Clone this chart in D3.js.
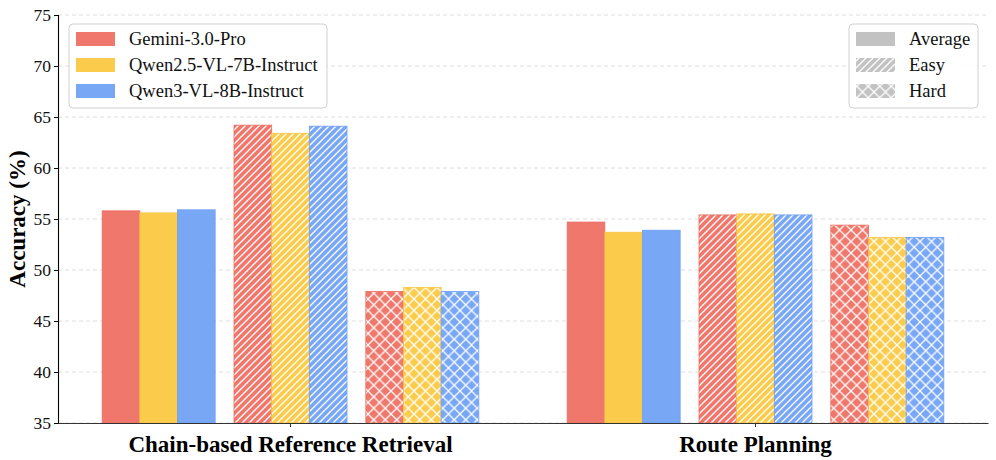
<!DOCTYPE html>
<html><head><meta charset="utf-8">
<script src="https://cdn.jsdelivr.net/npm/d3@7"></script>
<style>body{margin:0;background:#fff}svg{display:block}text{font-family:"Liberation Serif","Times New Roman",serif}</style>
</head><body><svg id="c" width="996" height="460"></svg>
<script>
const categories = ["Chain-based Reference Retrieval", "Route Planning"];
const subsets = ["Average", "Easy", "Hard"];
const models = ["Gemini-3.0-Pro", "Qwen2.5-VL-7B-Instruct", "Qwen3-VL-8B-Instruct"];
// values[category][subset][model]
const geminiValues = [[55.8, 64.2, 47.9], [54.7, 55.4, 54.4]];
const qwen25Values = [[55.6, 63.4, 48.3], [53.7, 55.5, 53.2]];
const qwen3Values  = [[55.9, 64.1, 47.9], [53.9, 55.4, 53.2]];
const yTicks = [35, 40, 45, 50, 55, 60, 65, 70, 75];

const fills = ["#EF776B", "#FBCC4C", "#78A7F6"];
const edges = ["#EA6C5F", "#F8C443", "#6E9EF2"];
const seriesVals = [geminiValues, qwen25Values, qwen3Values];

const data = [];
categories.forEach((c, ci) => subsets.forEach((s, si) => models.forEach((m, mi) => {
  data.push({cat: c, sub: s, model: m, mi, si, v: seriesVals[mi][ci][si]});
})));

const svg = d3.select("#c");
const M = {l: 58, r: 988, t: 15, b: 423};

const x0 = d3.scaleBand().domain(categories).range([M.l, M.r]).padding(0);
const w = x0.step() * 0.081;
const x1 = d3.scaleBand().domain(subsets).range([-5 * w, 5 * w]).paddingInner(0.5 / 3.5).paddingOuter(0);
const x2 = d3.scaleBand().domain(models).range([0, x1.bandwidth()]).padding(0);
const y = d3.scaleLinear().domain([35, 75]).range([M.b, M.t]);

// patterns
const defs = svg.append("defs");
function diag(id, col) {
  const p = defs.append("pattern").attr("id", id).attr("patternUnits", "userSpaceOnUse")
    .attr("width", 7).attr("height", 7);
  p.append("rect").attr("width", 7).attr("height", 7).attr("fill", col);
  p.append("path").attr("d", "M-1,8 L8,-1 M-1,1 L1,-1 M6,8 L8,6")
    .attr("stroke", "#fff").attr("stroke-width", 1.3);
}
function cross(id, col) {
  const s = 11.5;
  const p = defs.append("pattern").attr("id", id).attr("patternUnits", "userSpaceOnUse")
    .attr("width", s).attr("height", s);
  p.append("rect").attr("width", s).attr("height", s).attr("fill", col);
  p.append("path").attr("d", `M-1,${s+1} L${s+1},-1 M-1,-1 L${s+1},${s+1}`)
    .attr("stroke", "#fff").attr("stroke-width", 1.3);
}
fills.concat(["#C2C2C2"]).forEach((f, i) => { diag("d" + i, f); cross("x" + i, f); });
function fillFor(si, ci) {
  if (si === 0) return ci === 3 ? "#C2C2C2" : fills[ci];
  return `url(#${si === 1 ? "d" : "x"}${ci})`;
}

// grid
svg.append("g").selectAll("line").data(yTicks).join("line")
  .attr("x1", M.l).attr("x2", M.r).attr("y1", d => y(d)).attr("y2", d => y(d))
  .attr("stroke", "#dedede").attr("stroke-width", 1).attr("stroke-dasharray", "4,3");

// bars
svg.append("g").selectAll("rect").data(data).join("rect")
  .attr("x", d => x0(d.cat) + x0.bandwidth() / 2 + x1(d.sub) + x2(d.model))
  .attr("width", x2.bandwidth())
  .attr("y", d => y(d.v))
  .attr("height", d => y(35) - y(d.v))
  .attr("fill", d => fillFor(d.si, d.mi))
  .attr("stroke", d => edges[d.mi]).attr("stroke-width", 0.8);

// axes
const yAxis = svg.append("g").attr("transform", `translate(${M.l},0)`)
  .call(d3.axisLeft(y).tickValues(yTicks).tickSize(4).tickPadding(3));
yAxis.select(".domain").attr("stroke", "#000").attr("stroke-width", 1.1);
yAxis.selectAll("text").attr("font-size", 17.5).attr("fill", "#111").attr("font-family", "Liberation Serif");

const xAxis = svg.append("g").attr("transform", `translate(0,${M.b})`)
  .call(d3.axisBottom(x0).tickSize(4).tickPadding(5).tickSizeOuter(0));
xAxis.select(".domain").attr("stroke", "#333").attr("stroke-width", 1.2);
xAxis.selectAll(".tick line").attr("stroke", "#333");
xAxis.selectAll("text").attr("font-size", 23).attr("font-weight", "bold").attr("fill", "#000")
  .attr("font-family", "Liberation Serif").attr("dy", "0.85em");

svg.append("text").attr("transform", `translate(25,${(M.t + M.b) / 2}) rotate(-90)`)
  .attr("text-anchor", "middle").attr("font-size", 23).attr("font-weight", "bold")
  .text("Accuracy (%)");

// legends
function legend(x, yTop, wdt, items, patchFill) {
  const g = svg.append("g");
  g.append("rect").attr("x", x).attr("y", yTop).attr("width", wdt).attr("height", 84)
    .attr("rx", 4).attr("fill", "#fff").attr("fill-opacity", 0.85).attr("stroke", "#d0d0d0");
  items.forEach((t, i) => {
    const cy = yTop + 15 + i * 26;
    g.append("rect").attr("x", x + 7).attr("y", cy - 7).attr("width", 39).attr("height", 14)
      .attr("fill", patchFill(i));
    g.append("text").attr("x", x + 60).attr("y", cy).attr("dy", "0.35em")
      .attr("font-size", 18.5).attr("fill", "#111").text(t);
  });
}
legend(69, 24, 258, models, i => fills[i]);
legend(849, 24, 129, subsets, i => fillFor(i, 3));
</script></body></html>
